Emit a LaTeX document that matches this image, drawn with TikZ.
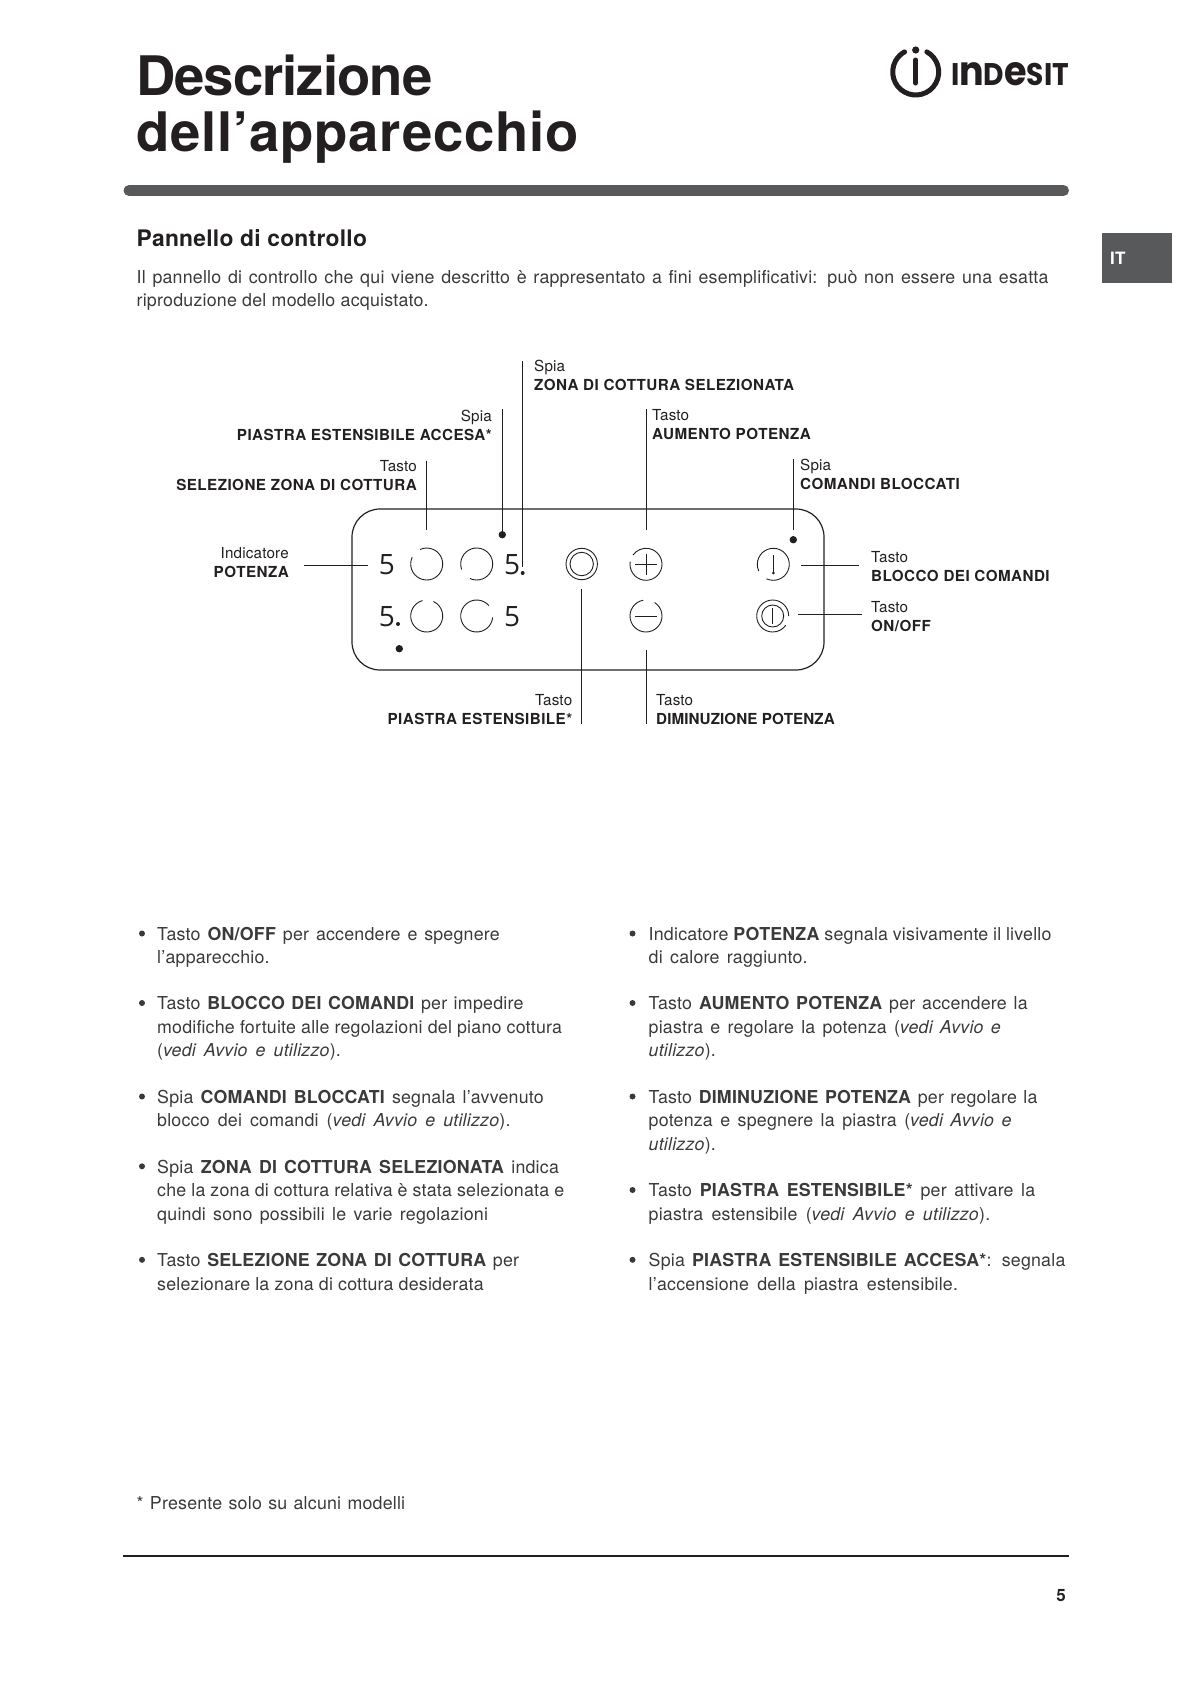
\documentclass[tikz,border=0pt]{standalone}
\usepackage{fontspec}
\usepackage{graphicx}
\setmainfont{TeX Gyre Heros}[LetterSpace=1.2]
\newfontfamily\titlefont{TeX Gyre Heros}[LetterSpace=-1.8]
\newfontfamily\titlefontb{TeX Gyre Heros}[LetterSpace=1.4]
\newfontfamily\tagfont{TeX Gyre Heros}[LetterSpace=3]
\newfontfamily\tagfontb{TeX Gyre Heros}[LetterSpace=0.6]
\newfontfamily\digitfont{Open Sans}
\newfontfamily\logofont{Poppins}
\usetikzlibrary{positioning}
\definecolor{ink}{HTML}{231F20}
\definecolor{bodytext}{HTML}{3A3A3A}
\definecolor{slate}{HTML}{58595B}
\newcommand\rigo[2]{\makebox[#1pt][s]{\strut #2}}
\newcommand\tagbold[1]{{\tagfont\bfseries #1}}
\newcommand\anello[4]{\draw[keyline] (#1,#2) ++(#4:16) arc[start angle=#4,end angle=#3+360,radius=16];}

\begin{document}
\begin{tikzpicture}[
  x=1pt,y=1pt,
  font=\fontsize{17.8}{23.5}\selectfont,
  every node/.style={text=bodytext},
  para/.style={anchor=north west,inner sep=0pt,align=left},
  tagleft/.style={anchor=west,inner sep=0pt,align=left,text=ink,font=\fontsize{15.2}{19.2}\selectfont},
  tagright/.style={anchor=east,inner sep=0pt,align=right,text=ink,font=\fontsize{15.2}{19.2}\selectfont},
  digit/.style={inner sep=0pt,text=ink,font=\digitfont\fontsize{28}{28}\selectfont},
  keyline/.style={draw=ink,line width=0.9pt},
  leader/.style={draw=ink,line width=1pt},
  spot/.style={fill=ink,draw=none}
]
\useasboundingbox (0,0) rectangle (1191,-1684);

% header
\node[anchor=base west,inner sep=0pt,text=ink,font=\titlefont\bfseries\fontsize{54.5}{56}\selectfont] (title1) at (136,-95) {Descrizione};
\node[anchor=base west,inner sep=0pt,text=ink,font=\titlefontb\bfseries\fontsize{54.5}{56}\selectfont] (title2) at (136.5,-151) {dell’apparecchio};
\draw[ink,line width=5pt,line cap=round] (915.7,-72) ++(61:23) arc[start angle=61,end angle=-241,radius=23];
\draw[ink,line width=5pt,line cap=round] (915.7,-60) -- (915.7,-83);
\fill[ink] (915.7,-50) circle (3.6);
\node[inner sep=0pt,text=ink,font=\logofont\bfseries\fontsize{30}{30}\selectfont] (brand) at (1010,-74.2) {\resizebox{118pt}{23pt}{I\scalebox{1.3}{n}D\scalebox{1.3}{e}SIT}};
\draw[slate,line width=11pt,line cap=round] (129,-190.5) -- (1063.5,-190.5);
\node[fill=slate,minimum width=70,minimum height=50,inner sep=0pt] (tab) at (1137,-258) {};
\node[anchor=west,inner sep=0pt,text=white,font=\bfseries\fontsize{17}{17}\selectfont] (tabtext) at (1110,-258.5) {IT};

\node[anchor=base west,inner sep=0pt,text=ink,font=\bfseries\fontsize{22.8}{25}\selectfont] (section) at (136.5,-246.5) {Pannello di controllo};
\node[para] (intro) at (136.5,-266.7) {\rigo{911.8}{Il pannello di controllo che qui viene descritto è rappresentato a fini esemplificativi: può non essere una esatta}\\\rigo{292}{riproduzione del modello acquistato.}};

% panel
\node[draw=ink,line width=1.2pt,rounded corners=28pt,minimum width=472,minimum height=161,inner sep=0pt] (panel) at (588,-589.5) {};
\node[digit] (d1) at (387,-564.5) {5};
\node[digit] (d2) at (512.2,-564.5) {5};
\node[digit] (d3) at (387,-616.7) {5};
\node[digit] (d4) at (512.2,-616.7) {5};
\fill[spot] (522.7,-573) circle (2);
\fill[spot] (398,-624) circle (2);
\anello{426.7}{-564}{115}{155}
\anello{476.7}{-564}{200}{245}
\anello{426.7}{-616}{65}{105}
\anello{476.7}{-616}{-5}{40}
\anello{646}{-564.3}{145}{170}
\anello{646}{-616}{57}{100}
\anello{773.3}{-564.3}{205}{245}
\anello{772.7}{-616}{-35}{0}
\draw[keyline] (581.7,-564) circle (15.7);
\draw[keyline] (581.7,-564) circle (11.7);
\draw[keyline] (772.7,-616) circle (11);
\draw[keyline] (772.7,-608) -- (772.7,-624);
\draw[keyline] (635.3,-564.3) -- (656.7,-564.3);
\draw[keyline] (646,-553.6) -- (646,-575);
\draw[keyline] (635.3,-616) -- (656.7,-616);
\draw[keyline] (773.3,-555) -- (773.3,-572.7);
\fill[spot] (773.3,-573) circle (1.5);
\fill[spot] (502.3,-534.7) circle (3.7);
\fill[spot] (793.3,-539.7) circle (3.7);
\fill[spot] (399.3,-648.7) circle (3.7);

% labels
\node[tagright] (selezione) at (417,-475.5) {Tasto\\\tagbold{SELEZIONE ZONA DI COTTURA}};
\node[tagright] (accesa) at (492,-425.3) {Spia\\\tagbold{PIASTRA ESTENSIBILE ACCESA*}};
\node[tagright] (potenza) at (289,-562.5) {Indicatore\\\tagbold{POTENZA}};
\node[tagleft] (zona) at (534,-375.5) {Spia\\\tagbold{ZONA DI COTTURA SELEZIONATA}};
\node[tagleft] (aumento) at (652,-424.7) {Tasto\\\tagbold{AUMENTO POTENZA}};
\node[tagleft] (bloccati) at (800,-474.3) {Spia\\\tagbold{COMANDI BLOCCATI}};
\node[tagleft] (blocco) at (871,-566.3) {Tasto\\\tagbold{BLOCCO DEI COMANDI}};
\node[tagleft] (onoff) at (871,-616.5) {Tasto\\\tagbold{ON/OFF}};
\node[tagright] (estensibile) at (572.4,-709.5) {Tasto\\\tagbold{PIASTRA ESTENSIBILE*}};
\node[tagleft] (diminuzione) at (656,-709.5) {Tasto\\{\tagfontb\bfseries DIMINUZIONE POTENZA}};

% leaders
\coordinate (selezioneA) at (426.7,-460.7);
\coordinate (selezioneB) at (426.7,-530);
\coordinate (accesaA) at (502.3,-409);
\coordinate (accesaB) at (502.3,-534);
\coordinate (zonaA) at (522.3,-361);
\coordinate (zonaB) at (522.3,-566.6);
\coordinate (aumentoA) at (646,-409);
\coordinate (aumentoB) at (646,-530);
\coordinate (bloccatiA) at (793.3,-459);
\coordinate (bloccatiB) at (793.3,-530);
\coordinate (potenzaA) at (304,-565.3);
\coordinate (potenzaB) at (368,-565.3);
\coordinate (bloccoA) at (801,-565.3);
\coordinate (bloccoB) at (859,-565.3);
\coordinate (onoffA) at (798.3,-614);
\coordinate (onoffB) at (862,-614);
\coordinate (estensibileA) at (581.3,-589);
\coordinate (estensibileB) at (581.3,-724);
\coordinate (diminuzioneA) at (646,-650);
\coordinate (diminuzioneB) at (646,-724);
\draw[leader] (selezioneA) -- (selezioneB);
\draw[leader] (accesaA) -- (accesaB);
\draw[leader] (zonaA) -- (zonaB);
\draw[leader] (aumentoA) -- (aumentoB);
\draw[leader] (bloccatiA) -- (bloccatiB);
\draw[leader] (potenzaA) -- (potenzaB);
\draw[leader] (bloccoA) -- (bloccoB);
\draw[leader] (onoffA) -- (onoffB);
\draw[leader] (estensibileA) -- (estensibileB);
\draw[leader] (diminuzioneA) -- (diminuzioneB);

% left column
\foreach \y in {-933.5,-1003,-1096.5,-1166.3,-1259.8}{
  \fill[bodytext] (142,\y) circle (3);
}
\foreach \y in {-933.5,-1003,-1096.5,-1190,-1259.8}{
  \fill[bodytext] (632.5,\y) circle (3);
}
\node[para] (item1) at (157,-923.5) {\rigo{342.6}{Tasto \textbf{ON/OFF} per accendere e spegnere}\\\rigo{116}{l’apparecchio.}};
\node[para] (item2) at (157,-993.2) {\rigo{366.2}{Tasto \textbf{BLOCCO DEI COMANDI} per impedire}\\\rigo{404.9}{modifiche fortuite alle regolazioni del piano cottura}\\\rigo{183.7}{(\textit{vedi Avvio e utilizzo}).}};
\node[para] (item3) at (157,-1086.7) {\rigo{386.6}{Spia \textbf{COMANDI BLOCCATI} segnala l’avvenuto}\\\rigo{353.3}{blocco dei comandi (\textit{vedi Avvio e utilizzo}).}};
\node[para] (item4) at (157,-1156.5) {\rigo{401.7}{Spia \textbf{ZONA DI COTTURA SELEZIONATA} indica}\\\rigo{407}{che la zona di cottura relativa è stata selezionata e}\\\rigo{330.8}{quindi sono possibili le varie regolazioni}};
\node[para] (item5) at (157,-1250) {\rigo{361.9}{Tasto \textbf{SELEZIONE ZONA DI COTTURA} per}\\\rigo{326.5}{selezionare la zona di cottura desiderata}};

% right column
\node[para] (item6) at (648.5,-923.5) {\rigo{402.8}{Indicatore \textbf{POTENZA} segnala visivamente il livello}\\\rigo{159}{di calore raggiunto.}};
\node[para] (item7) at (648.5,-993.2) {\rigo{379}{Tasto \textbf{AUMENTO POTENZA} per accendere la}\\\rigo{352.3}{piastra e regolare la potenza (\textit{vedi Avvio e}}\\\rigo{69.8}{\textit{utilizzo}).}};
\node[para] (item8) at (648.5,-1086.7) {\rigo{388.8}{Tasto \textbf{DIMINUZIONE POTENZA} per regolare la}\\\rigo{363}{potenza e spegnere la piastra (\textit{vedi Avvio e}}\\\rigo{69.8}{\textit{utilizzo}).}};
\node[para] (item9) at (648.5,-1180.2) {\rigo{386.6}{Tasto \textbf{PIASTRA ESTENSIBILE*} per attivare la}\\\rigo{341.5}{piastra estensibile (\textit{vedi Avvio e utilizzo}).}};
\node[para] (item10) at (648.5,-1250) {\rigo{416.7}{Spia \textbf{PIASTRA ESTENSIBILE ACCESA*}: segnala}\\\rigo{309.3}{l’accensione della piastra estensibile.}};

% footer
\node[para] (note) at (136.5,-1492.5) {\rigo{268.5}{* Presente solo su alcuni modelli}};
\draw[ink,line width=1.6pt] (122.5,-1555.7) -- (1069,-1555.7);
\node[anchor=east,inner sep=0pt,text=ink,font=\bfseries\fontsize{17}{17}\selectfont] (pagenum) at (1066,-1596) {5};
\end{tikzpicture}
\end{document}
